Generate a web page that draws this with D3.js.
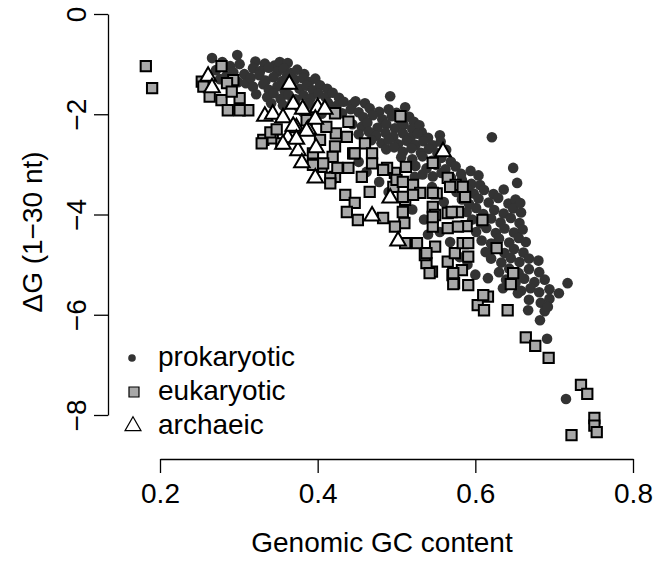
<!DOCTYPE html>
<html><head><meta charset="utf-8">
<script src="https://cdn.jsdelivr.net/npm/d3@7"></script>
<style>body{margin:0;background:#fff}svg{display:block}text{font-family:"Liberation Sans",Arial,Helvetica,sans-serif;fill:#000}</style>
</head><body><svg id="c" width="656" height="562"></svg>
<script>
const xTicks=[0.2,0.4,0.6,0.8];
const yTicks=[0,-2,-4,-6,-8];
const seriesNames=["prokaryotic","eukaryotic","archaeic"];
const xTitle="Genomic GC content";
const yTitle="ΔG (1−30 nt)";
const prokaryotic=[
[0.266,-0.88],[0.298,-0.82],[0.279,-0.96],[0.289,-1.04],[0.301,-1.00],[0.293,-1.16],[0.307,-1.20],[0.284,-1.24],[0.299,-1.36],[0.271,-1.12],[0.276,-1.30],[0.291,-1.28],[0.309,-1.38],
[0.321,-0.95],[0.333,-0.99],[0.345,-1.03],[0.352,-0.96],[0.362,-0.98],[0.318,-1.08],[0.327,-1.14],[0.338,-1.07],[0.349,-1.15],[0.357,-1.09],[0.366,-1.18],[0.374,-1.11],[0.383,-1.20],
[0.315,-1.27],[0.326,-1.22],[0.334,-1.33],[0.344,-1.26],[0.355,-1.34],[0.361,-1.24],[0.371,-1.31],[0.381,-1.28],[0.389,-1.36],[0.397,-1.29],
[0.318,-1.45],[0.331,-1.40],[0.338,-1.51],[0.349,-1.44],[0.358,-1.53],[0.366,-1.41],[0.377,-1.49],[0.386,-1.43],[0.394,-1.52],[0.403,-1.42],[0.412,-1.49],
[0.322,-1.60],[0.336,-1.66],[0.344,-1.58],[0.353,-1.69],[0.363,-1.61],[0.372,-1.70],[0.382,-1.62],[0.391,-1.68],[0.401,-1.59],[0.410,-1.66],[0.419,-1.57],[0.427,-1.67],
[0.341,-1.78],[0.356,-1.82],[0.368,-1.76],[0.376,-1.86],[0.388,-1.79],[0.399,-1.84],[0.413,-1.77],[0.424,-1.83],[0.433,-1.75],[0.444,-1.80],
[0.381,-1.95],[0.396,-1.91],[0.405,-1.99],[0.419,-1.93],[0.431,-1.98],[0.442,-1.90],[0.452,-1.96],
[0.448,-1.74],[0.460,-1.78],[0.492,-1.64],[0.511,-1.86],[0.532,-2.36],[0.555,-2.42],[0.621,-2.46],
[0.466,-1.88],[0.478,-1.95],[0.490,-1.90],[0.500,-1.97],
[0.458,-2.06],[0.470,-2.02],[0.482,-2.10],[0.494,-2.04],[0.505,-2.12],[0.516,-2.05],[0.522,-2.15],
[0.444,-2.20],[0.456,-2.25],[0.463,-2.17],[0.476,-2.27],[0.487,-2.20],[0.498,-2.28],[0.509,-2.21],[0.520,-2.29],[0.529,-2.22],
[0.452,-2.40],[0.465,-2.35],[0.474,-2.43],[0.486,-2.37],[0.496,-2.45],[0.508,-2.38],[0.518,-2.46],[0.527,-2.39],[0.540,-2.47],
[0.468,-2.52],[0.481,-2.58],[0.490,-2.51],[0.502,-2.60],[0.513,-2.53],[0.524,-2.61],[0.534,-2.54],[0.546,-2.62],[0.556,-2.55],
[0.487,-2.70],[0.497,-2.66],[0.508,-2.75],[0.519,-2.68],[0.531,-2.77],[0.541,-2.69],[0.552,-2.78],[0.563,-2.71],
[0.506,-2.86],[0.520,-2.90],[0.533,-2.84],[0.545,-2.93],[0.557,-2.87],[0.569,-2.95],
[0.524,-3.03],[0.538,-3.08],[0.550,-3.01],[0.562,-3.10],[0.575,-3.04],
[0.533,-3.20],[0.546,-3.24],[0.557,-3.17],[0.569,-3.26],[0.582,-3.19],[0.594,-3.13],[0.604,-3.22],
[0.570,-3.36],[0.583,-3.31],[0.595,-3.39],[0.606,-3.41],
[0.576,-3.55],[0.589,-3.48],[0.598,-3.58],[0.611,-3.51],[0.623,-3.59],[0.636,-3.50],
[0.583,-3.70],[0.592,-3.79],[0.604,-3.68],[0.617,-3.76],[0.629,-3.67],[0.642,-3.78],[0.651,-3.70],
[0.589,-3.95],[0.601,-3.87],[0.610,-3.99],[0.624,-3.91],[0.636,-3.98],[0.648,-3.88],[0.658,-3.96],
[0.596,-4.10],[0.607,-4.18],[0.620,-4.08],[0.632,-4.16],[0.645,-4.07],[0.656,-4.17],
[0.601,-4.35],[0.614,-4.27],[0.626,-4.37],[0.637,-4.28],[0.649,-4.36],[0.660,-4.30],
[0.608,-4.52],[0.620,-4.58],[0.630,-4.48],[0.643,-4.56],[0.655,-4.47],[0.664,-4.55],
[0.613,-4.75],[0.624,-4.68],[0.637,-4.77],[0.649,-4.69],[0.661,-4.76],
[0.620,-4.88],[0.633,-4.96],[0.645,-4.87],[0.656,-4.95],[0.668,-4.88],[0.680,-4.92],
[0.630,-5.15],[0.643,-5.08],[0.655,-5.17],[0.668,-5.09],[0.681,-5.15],
[0.639,-5.30],[0.651,-5.36],[0.662,-5.28],[0.675,-5.35],[0.688,-5.30],
[0.658,-5.52],[0.670,-5.47],[0.681,-5.55],[0.694,-5.49],[0.706,-5.57],
[0.668,-5.70],[0.683,-5.76],[0.694,-5.68],
[0.667,-5.91],[0.688,-5.93],[0.682,-6.11],
[0.717,-5.37],[0.692,-5.84],[0.691,-6.48],[0.715,-7.68],[0.648,-3.07],[0.653,-3.37],[0.657,-3.77],[0.616,-5.27],[0.635,-5.47],[0.654,-5.57],
[0.504,-3.31],[0.523,-3.25],[0.545,-3.45],[0.560,-3.75],[0.555,-4.35],[0.568,-4.55],[0.540,-4.40],[0.580,-4.85],[0.590,-5.00],[0.600,-5.20],[0.520,-3.90],[0.535,-4.10],[0.452,-2.95],[0.462,-3.15],[0.478,-3.35],[0.490,-3.55]
];
const eukaryotic=[
[0.182,-1.04],[0.190,-1.48],
[0.278,-1.04],[0.293,-1.32],[0.253,-1.35],[0.255,-1.45],[0.263,-1.65],[0.278,-1.72],[0.286,-1.92],[0.301,-1.68],[0.312,-1.92],[0.301,-1.92],[0.285,-1.38],[0.291,-1.55],
[0.331,-2.51],[0.343,-2.48],[0.354,-2.58],[0.329,-2.58],[0.340,-2.36],[0.348,-2.30],
[0.422,-1.98],[0.439,-2.15],[0.423,-2.38],[0.437,-2.45],[0.422,-2.64],[0.445,-2.78],[0.460,-2.58],[0.469,-2.78],
[0.405,-3.05],[0.422,-3.25],[0.439,-3.07],[0.456,-3.25],[0.469,-2.98],[0.466,-3.55],[0.435,-3.61],[0.447,-3.77],[0.437,-3.95],[0.451,-4.11],[0.416,-3.27],[0.394,-3.01],
[0.386,-2.12],[0.411,-2.25],[0.403,-2.51],[0.419,-2.85],[0.394,-2.78],[0.407,-2.98],[0.416,-3.38],[0.425,-3.07],
[0.505,-2.04],
[0.546,-2.97],[0.565,-3.27],[0.575,-3.41],[0.587,-3.65],[0.609,-4.11],[0.627,-4.67],[0.648,-5.17],[0.645,-5.39],[0.641,-5.91],[0.616,-5.64],[0.603,-5.81],[0.611,-5.91],[0.591,-5.41],[0.573,-5.37],[0.571,-5.21],[0.583,-5.11],[0.565,-4.94],[0.545,-5.14],[0.538,-4.97],[0.536,-4.81],[0.526,-4.57],[0.549,-4.64],[0.574,-4.77],[0.591,-4.84],[0.584,-4.57],[0.546,-4.24],[0.565,-4.27],[0.578,-3.95],[0.589,-4.23],[0.551,-3.58],[0.546,-3.85],[0.549,-4.01],[0.565,-3.97],[0.510,-4.17],[0.498,-4.24],[0.508,-3.95],[0.511,-3.71],[0.521,-3.41],[0.530,-3.57],[0.496,-3.45],[0.498,-3.17],[0.488,-3.07],[0.483,-4.07],[0.511,-4.57],
[0.447,-2.78],[0.483,-3.11],[0.512,-3.05],[0.500,-3.31],[0.508,-3.35],[0.521,-3.61],[0.508,-3.65],[0.546,-3.57],[0.546,-4.05],[0.570,-3.95],[0.578,-4.24],[0.568,-3.45],[0.584,-3.45],[0.538,-4.77],[0.572,-5.17],[0.542,-5.17],[0.572,-5.39],[0.610,-5.61],[0.591,-4.57],
[0.664,-6.45],[0.676,-6.62],[0.693,-6.86],[0.734,-7.40],[0.742,-7.58],[0.751,-8.06],[0.751,-8.21],[0.754,-8.34],[0.722,-8.40]
];
const archaeic=[
[0.261,-1.22],[0.266,-1.45],[0.364,-1.38],[0.333,-2.02],[0.343,-1.98],[0.356,-2.05],[0.369,-1.78],[0.400,-1.85],[0.409,-1.88],[0.373,-2.25],[0.388,-2.28],[0.397,-2.08],[0.375,-2.71],[0.398,-2.65],[0.380,-2.95],[0.397,-3.25],[0.469,-4.01],[0.362,-2.45],[0.559,-2.73],[0.492,-3.65],[0.502,-4.51],[0.369,-2.22],[0.386,-2.32],[0.356,-2.58],[0.381,-1.88],[0.373,-2.48]
];

const svg=d3.select("#c");
const x=d3.scaleLinear().domain([0.2,0.8]).range([160,633]);
const y=d3.scaleLinear().domain([0,-8]).range([14,415]);
const FS=28;
const gray="#a8a8a8", dark="#333333";

svg.append("g").selectAll("circle").data(prokaryotic).join("circle")
  .attr("cx",d=>x(d[0])).attr("cy",d=>y(d[1])).attr("r",5.3).attr("fill",dark);
const sq=d3.symbol().type(d3.symbolSquare).size(106);
svg.append("g").selectAll("path").data(eukaryotic).join("path")
  .attr("d",sq).attr("transform",d=>`translate(${x(d[0])},${y(d[1])})`)
  .attr("fill",gray).attr("stroke","#000").attr("stroke-width",2);
const tri=d3.symbol().type(d3.symbolTriangle).size(105);
svg.append("g").selectAll("path").data(archaeic).join("path")
  .attr("d",tri).attr("transform",d=>`translate(${x(d[0])},${y(d[1])+1})`)
  .attr("fill","#fff").attr("stroke","#000").attr("stroke-width",2);

const gx=svg.append("g").attr("transform","translate(0,459)")
  .call(d3.axisBottom(x).tickValues(xTicks).tickSize(14).tickSizeOuter(0).tickFormat(d3.format(".1f")));
gx.attr("font-size",null).attr("font-family",null);
gx.selectAll("path,line").attr("stroke","#000").attr("stroke-width",1.3);
gx.selectAll("text").attr("y",44).attr("dy",null).style("font-size",FS+"px");

const gy=svg.append("g").attr("transform","translate(108,0)")
  .call(d3.axisLeft(y).tickValues(yTicks).tickSize(14).tickSizeOuter(0).tickFormat(d3.format("d")));
gy.attr("font-size",null).attr("font-family",null);
gy.selectAll("path,line").attr("stroke","#000").attr("stroke-width",1.3);
gy.selectAll("text").attr("x",0).attr("y",-22).attr("dy",null)
  .attr("transform","rotate(-90)").attr("text-anchor","middle").style("font-size",FS+"px");

svg.append("text").attr("x",382).attr("y",552).attr("text-anchor","middle").style("font-size",FS+"px").text(xTitle);
svg.append("text").attr("transform","translate(42,232) rotate(-90)").attr("text-anchor","middle").style("font-size",FS+"px").text(yTitle);

const leg=svg.append("g");
const rows=[366,400,434];
seriesNames.forEach((n,i)=>{
  leg.append("text").attr("x",158).attr("y",rows[i]).style("font-size",FS+"px").text(n);
});
leg.append("circle").attr("cx",132).attr("cy",rows[0]-8).attr("r",3.8).attr("fill",dark);
leg.append("path").attr("d",d3.symbol().type(d3.symbolSquare).size(100)).attr("transform",`translate(134,${rows[1]-8})`).attr("fill",gray).attr("stroke","#000").attr("stroke-width",1.2);
leg.append("path").attr("d",d3.symbol().type(d3.symbolTriangle).size(110)).attr("transform",`translate(133,${rows[2]-8})`).attr("fill","#fff").attr("stroke","#000").attr("stroke-width",1.2);
</script></body></html>
